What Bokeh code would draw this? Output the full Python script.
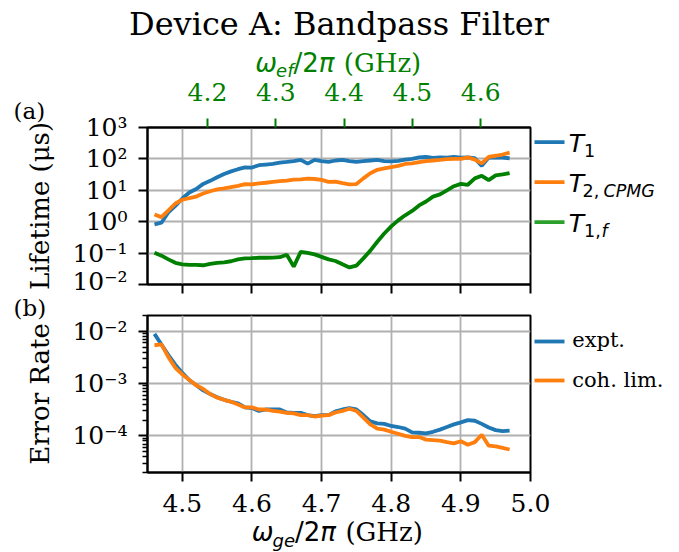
from bokeh.plotting import figure
from bokeh.models import Range1d, LinearAxis, FixedTicker, Label
from bokeh.layouts import column
from bokeh.embed import file_html
from bokeh.resources import INLINE

# qubit g-e transition frequency (GHz)
freq_ge = [4.46, 4.47, 4.48, 4.49, 4.50, 4.51, 4.52, 4.53, 4.54, 4.55,
           4.56, 4.57, 4.58, 4.59, 4.60, 4.61, 4.62, 4.63, 4.64, 4.65,
           4.66, 4.67, 4.68, 4.69, 4.70, 4.71, 4.72, 4.73, 4.74, 4.75,
           4.76, 4.77, 4.78, 4.79, 4.80, 4.81, 4.82, 4.83, 4.84, 4.85,
           4.86, 4.87, 4.88, 4.89, 4.90, 4.91, 4.92, 4.93, 4.94, 4.95,
           4.96, 4.97]

# lifetimes (us)
t1 = [0.82, 0.93, 2.0, 3.2, 5.5, 8.5, 11, 16, 20, 26,
      33, 40, 47, 54, 53, 63, 66, 69, 76, 80,
      85, 93, 71, 93, 85, 80, 89, 93, 85, 80,
      85, 89, 93, 85, 83, 87, 95, 100, 112, 115,
      107, 112, 110, 115, 110, 112, 105, 60, 110, 112,
      110, 105]
t2_cpmg = [1.7, 1.4, 2.3, 3.8, 5.0, 5.6, 6.3, 7.9, 9.3, 10.7,
           11.5, 12.6, 13.8, 15.8, 15.5, 16.6, 17.4, 18.6, 19.5, 20.4,
           21.9, 22.4, 23.4, 22.9, 21.4, 18.6, 19, 17, 15.5, 15.8,
           24, 35, 45, 50, 55, 60, 69, 72, 79, 85,
           89, 93, 98, 100, 100, 112, 95, 72, 117, 126,
           138, 158]
t1_f = [0.102, 0.083, 0.063, 0.049, 0.044, 0.042, 0.042, 0.041, 0.045, 0.049,
        0.051, 0.055, 0.063, 0.068, 0.069, 0.071, 0.071, 0.072, 0.074, 0.089,
        0.037, 0.11, 0.102, 0.091, 0.076, 0.063, 0.056, 0.044, 0.035, 0.04,
        0.068, 0.12, 0.23, 0.42, 0.71, 1.1, 1.6, 2.2, 3.3, 4.4,
        6.3, 7.4, 10, 13.5, 16, 15, 24, 29, 21, 30,
        32, 35]

# gate error rates
err_expt = [8.9e-3, 5.6e-3, 3.5e-3, 2.3e-3, 1.6e-3, 1.17e-3, 9.3e-4, 7.4e-4, 6.3e-4, 5.5e-4,
            4.9e-4, 4.5e-4, 4.2e-4, 3.5e-4, 3.4e-4, 3.0e-4, 3.2e-4, 3.2e-4, 3.2e-4, 2.8e-4,
            2.75e-4, 2.75e-4, 2.5e-4, 2.4e-4, 2.5e-4, 2.5e-4, 2.95e-4, 3.2e-4, 3.4e-4, 3.2e-4,
            2.5e-4, 1.9e-4, 1.74e-4, 1.7e-4, 1.55e-4, 1.48e-4, 1.38e-4, 1.17e-4, 1.15e-4, 1.12e-4,
            1.2e-4, 1.32e-4, 1.48e-4, 1.66e-4, 1.82e-4, 2.0e-4, 1.95e-4, 1.7e-4, 1.45e-4, 1.29e-4,
            1.23e-4, 1.26e-4]
err_coh = [5.4e-3, 5.6e-3, 3.2e-3, 2.0e-3, 1.5e-3, 1.17e-3, 9.3e-4, 7.9e-4, 6.3e-4, 5.4e-4,
           4.9e-4, 4.5e-4, 4.0e-4, 3.5e-4, 3.5e-4, 3.2e-4, 3.2e-4, 3.0e-4, 2.9e-4, 2.75e-4,
           2.7e-4, 2.5e-4, 2.5e-4, 2.35e-4, 2.45e-4, 2.5e-4, 2.8e-4, 3.0e-4, 3.3e-4, 3.0e-4,
           2.24e-4, 1.66e-4, 1.38e-4, 1.32e-4, 1.2e-4, 1.1e-4, 1.0e-4, 9.5e-5, 9.5e-5, 8.5e-5,
           8.3e-5, 8.1e-5, 7.6e-5, 7.2e-5, 7.9e-5, 6.8e-5, 7.6e-5, 1.05e-4, 6.5e-5, 6.3e-5,
           5.9e-5, 5.5e-5]

# ticks
ge_ticks = [4.5, 4.6, 4.7, 4.8, 4.9, 5.0]
ge_tick_labels = ["4.5", "4.6", "4.7", "4.8", "4.9", "5.0"]
ef_ticks = [4.2, 4.3, 4.4, 4.5, 4.6]
ef_tick_labels = ["4.2", "4.3", "4.4", "4.5", "4.6"]
life_ticks = [1e-2, 1e-1, 1.0, 10.0, 100.0, 1000.0]
life_tick_labels = ["10⁻²", "10⁻¹", "10⁰", "10¹", "10²", "10³"]
err_ticks = [1e-4, 1e-3, 1e-2]
err_tick_labels = ["10⁻⁴", "10⁻³", "10⁻²"]
err_minor = [k * 10.0 ** e for e in (-5, -4, -3) for k in range(2, 10)] + [2e-2]

BLUE = "#1f77b4"
ORANGE = "#ff7f0e"
GREEN_LINE = "#008000"
GREEN_KEY = "#2ca02c"
GRID = "#b0b0b0"
SERIF = "DejaVu Serif"
SANS = "DejaVu Sans"

W, H = 679, 552
FRAME_W, FRAME_H = 383, 157
LEFT, RIGHT = 147, 149
LW = 3.8


def style(p):
    p.background_fill_color = "white"
    p.border_fill_color = "white"
    p.outline_line_color = "black"
    p.outline_line_width = 2
    p.grid.grid_line_color = GRID
    p.grid.grid_line_width = 1.8
    for ax in p.axis:
        ax.axis_line_color = "black"
        ax.axis_line_width = 2
        ax.major_tick_out = 9
        ax.major_tick_in = 0
        ax.major_tick_line_width = 2
        ax.minor_tick_out = 5
        ax.minor_tick_in = 0
        ax.minor_tick_line_width = 1.5
        ax.major_label_text_font = SERIF
        ax.major_label_text_font_size = "25px"
        ax.major_label_text_color = "black"
        ax.axis_label_text_font = SERIF
        ax.axis_label_text_font_size = "26px"
        ax.axis_label_text_font_style = "normal"
        ax.axis_label_text_color = "black"


# ---------------- (a) lifetimes ----------------
p1 = figure(frame_width=FRAME_W, frame_height=FRAME_H,
            x_range=Range1d(4.45, 5.0), y_range=Range1d(1e-2, 1e3),
            y_axis_type="log", output_backend="svg", toolbar_location=None,
            min_border_left=LEFT, min_border_right=RIGHT,
            min_border_top=127, min_border_bottom=11)
p1.extra_x_ranges = {"ef": Range1d(4.1122, 4.6729)}
ef_axis = LinearAxis(x_range_name="ef", ticker=FixedTicker(ticks=ef_ticks))
p1.add_layout(ef_axis, "above")
style(p1)

ge_axis_a = p1.below[0]
ge_axis_a.ticker = FixedTicker(ticks=ge_ticks)
ge_axis_a.major_label_overrides = {t: "" for t in ge_ticks}
ge_axis_a.major_label_text_font_size = "0px"
ge_axis_a.major_label_standoff = 0
p1.yaxis.ticker = FixedTicker(ticks=life_ticks, minor_ticks=[])
p1.yaxis.major_label_overrides = dict(zip(life_ticks, life_tick_labels))
p1.yaxis.major_label_standoff = 11
p1.yaxis.axis_label = "Lifetime (μs)"
p1.yaxis.axis_label_standoff = 14

ef_axis.major_label_overrides = dict(zip(ef_ticks, ef_tick_labels))
ef_axis.major_tick_line_color = GREEN_LINE
ef_axis.major_label_text_color = GREEN_LINE
ef_axis.major_label_standoff = 18
ef_axis.minor_tick_line_color = None

p1.line(freq_ge, t1, color=BLUE, line_width=LW)
p1.line(freq_ge, t2_cpmg, color=ORANGE, line_width=LW)
p1.line(freq_ge, t1_f, color=GREEN_LINE, line_width=LW)

# ---------------- (b) error rates ----------------
p2 = figure(frame_width=FRAME_W, frame_height=FRAME_H,
            x_range=Range1d(4.45, 5.0), y_range=Range1d(2e-5, 2e-2),
            y_axis_type="log", output_backend="svg", toolbar_location=None,
            min_border_left=LEFT, min_border_right=RIGHT,
            min_border_top=20, min_border_bottom=80)
style(p2)
p2.xaxis.ticker = FixedTicker(ticks=ge_ticks)
p2.xaxis.major_label_overrides = dict(zip(ge_ticks, ge_tick_labels))
p2.xaxis.major_label_standoff = 12
p2.yaxis.ticker = FixedTicker(ticks=err_ticks, minor_ticks=err_minor)
p2.yaxis.major_label_overrides = dict(zip(err_ticks, err_tick_labels))
p2.yaxis.major_label_standoff = 11
p2.yaxis.axis_label = "Error Rate"
p2.yaxis.axis_label_standoff = 14

p2.line(freq_ge, err_expt, color=BLUE, line_width=LW)
p2.line(freq_ge, err_coh, color=ORANGE, line_width=LW)

# ---------------- transparent text layer over both panels ----------------
# coordinates in this layer are pixels from the top-left corner of the page
ov = figure(width=W, height=H, x_range=Range1d(0, W), y_range=Range1d(H, 0),
            output_backend="svg", toolbar_location=None,
            x_axis_location=None, y_axis_location=None,
            min_border=0, margin=(-H, 0, 0, 0))
try:
    ov.frame_align = False
except AttributeError:
    pass
ov.grid.visible = False
ov.outline_line_color = None
ov.background_fill_color = None
ov.border_fill_color = None

BASELINE_SHIFT = 0.36  # em, lifts the drawn baseline onto the requested y


def text(x, y, s, size, font=SERIF, fstyle="normal", color="black", align="left"):
    ov.add_layout(Label(x=x, y=y - BASELINE_SHIFT * size, text=s, text_font=font,
                        text_font_size=f"{size}px", text_font_style=fstyle,
                        text_color=color, text_align=align,
                        text_baseline="alphabetic"))


def freq_label(y, sub, sub_em, color, center):
    # omega_sub / 2 pi (GHz), assembled piece by piece
    big, small = 26, 18
    widths = [0.80 * big, sub_em * small, (0.337 + 0.636) * big,
              0.602 * big + 0.36 * big, 2.917 * big]
    x = center - sum(widths) / 2
    text(x, y, "ω", big, SANS, "italic", color)
    x += widths[0]
    text(x, y + 5, sub, small, SANS, "italic", color)
    x += widths[1]
    text(x, y, "/2", big, SANS, "normal", color)
    x += widths[2]
    text(x, y, "π", big, SANS, "italic", color)
    x += widths[3]
    text(x, y, "(GHz)", big, SERIF, "normal", color)


def key(x0, x1, yc, color):
    ov.segment(x0=[x0], y0=[yc], x1=[x1], y1=[yc], line_color=color, line_width=3.8)


text(338.5, 35, "Device A: Bandpass Filter", 32, align="center")
freq_label(71.7, "ef", 0.615 + 0.352, GREEN_LINE, 337)
freq_label(541, "ge", 0.635 + 0.615, "black", 336)
text(13, 119, "(a)", 23)
text(13, 316, "(b)", 23)

# key for panel (a)
key(534, 564, 141.7, BLUE)
key(534, 564, 181.7, ORANGE)
key(534, 564, 221.7, GREEN_KEY)
text(568.3, 151.7, "T", 25, SANS, "italic")
text(583.5, 156.7, "1", 17.5, SANS)
text(568.3, 191.7, "T", 25, SANS, "italic")
text(582.0, 196.7, "2,", 17.5, SANS)
text(603.0, 196.7, "CPMG", 17.5, SANS, "italic")
text(568.3, 231.7, "T", 25, SANS, "italic")
text(583.5, 236.7, "1,", 17.5, SANS)
text(601.0, 236.7, "f", 17.5, SANS, "italic")

# key for panel (b)
key(534, 564, 341, BLUE)
key(534, 564, 380, ORANGE)
text(571.7, 347, "expt.", 21)
text(571.7, 386.7, "coh. lim.", 21)

layout = column(p1, p2, ov, spacing=0)
open("out.html", "w").write(file_html(layout, INLINE))
